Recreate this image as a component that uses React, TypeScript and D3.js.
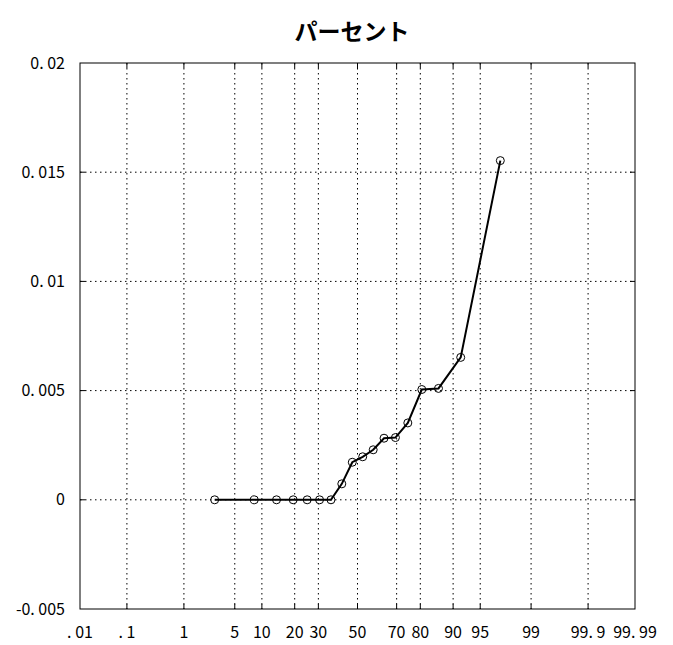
import React, { useEffect, useRef } from "react";
import * as d3 from "d3";

const percentTicks = [0.01, 0.1, 1, 5, 10, 20, 30, 50, 70, 80, 90, 95, 99, 99.9, 99.99];
const percentTickLabels = [". 01", ". 1", "1", "5", "10", "20", "30", "50", "70", "80", "90", "95", "99", "99. 9", "99. 99"];
const valueTicks = [-0.005, 0, 0.005, 0.01, 0.015, 0.02];
const valueTickLabels = ["-0. 005", "0", "0. 005", "0. 01", "0. 015", "0. 02"];

const pointPercents = [2.78, 8.33, 13.89, 19.44, 25.0, 30.56, 36.11, 41.67, 47.22, 52.78, 58.33, 63.89, 69.44, 75.0, 80.56, 86.11, 91.67, 97.22];
const pointValues = [0, 0, 0, 0, 0, 0, 0, 0.00073, 0.00172, 0.00197, 0.00229, 0.00282, 0.00285, 0.00352, 0.00505, 0.0051, 0.00652, 0.01553];

const title = "パーセント";

// inverse normal CDF (Acklam)
function probit(p: number): number {
  const a = [-3.969683028665376e1, 2.209460984245205e2, -2.759285104469687e2, 1.38357751867269e2, -3.066479806614716e1, 2.506628277459239];
  const b = [-5.447609879822406e1, 1.615858368580409e2, -1.556989798598866e2, 6.680131188771972e1, -1.328068155288572e1];
  const c = [-7.784894002430293e-3, -3.223964580411365e-1, -2.400758277161838, -2.549732539343734, 4.374664141464968, 2.938163982698783];
  const d = [7.784695709041462e-3, 3.224671290700398e-1, 2.445134137142996, 3.754408661907416];
  const pl = 0.02425;
  if (p < pl) {
    const q = Math.sqrt(-2 * Math.log(p));
    return (((((c[0] * q + c[1]) * q + c[2]) * q + c[3]) * q + c[4]) * q + c[5]) / ((((d[0] * q + d[1]) * q + d[2]) * q + d[3]) * q + 1);
  } else if (p <= 1 - pl) {
    const q = p - 0.5;
    const r = q * q;
    return ((((((a[0] * r + a[1]) * r + a[2]) * r + a[3]) * r + a[4]) * r + a[5]) * q) / (((((b[0] * r + b[1]) * r + b[2]) * r + b[3]) * r + b[4]) * r + 1);
  } else {
    const q = Math.sqrt(-2 * Math.log(1 - p));
    return -(((((c[0] * q + c[1]) * q + c[2]) * q + c[3]) * q + c[4]) * q + c[5]) / ((((d[0] * q + d[1]) * q + d[2]) * q + d[3]) * q + 1);
  }
}

const W = 673;
const H = 645;
const M = { left: 80, right: 635, top: 63, bottom: 609 };
const FONT = "'Noto Sans CJK JP', 'Noto Sans', sans-serif";

export default function App() {
  const ref = useRef<SVGSVGElement>(null);

  useEffect(() => {
    const svg = d3.select(ref.current);
    svg.selectAll("*").remove();

    const x = d3.scaleLinear().domain([probit(0.0001), probit(0.9999)]).range([M.left, M.right]);
    const px = (p: number) => x(probit(p / 100));
    const y = d3.scaleLinear().domain([-0.005, 0.02]).range([M.bottom, M.top]);

    const g = svg.append("g");

    // vertical grid
    percentTicks.forEach((t, i) => {
      const xx = px(t);
      if (i > 0 && i < percentTicks.length - 1) {
        g.append("line").attr("x1", xx).attr("x2", xx).attr("y1", M.top).attr("y2", M.bottom)
          .attr("stroke", "#000").attr("stroke-width", 1).attr("stroke-dasharray", "1.5,3.5");
        g.append("line").attr("x1", xx).attr("x2", xx).attr("y1", M.top).attr("y2", M.top + 5)
          .attr("stroke", "#000").attr("stroke-width", 1);
        g.append("line").attr("x1", xx).attr("x2", xx).attr("y1", M.bottom).attr("y2", M.bottom - 5)
          .attr("stroke", "#000").attr("stroke-width", 1);
      }
      g.append("text").attr("x", xx).attr("y", M.bottom + 29).attr("text-anchor", "middle")
        .attr("font-family", FONT).attr("font-size", 16).attr("fill", "#000").text(percentTickLabels[i]);
    });

    // horizontal grid
    valueTicks.forEach((t, i) => {
      const yy = y(t);
      if (i > 0 && i < valueTicks.length - 1) {
        g.append("line").attr("x1", M.left).attr("x2", M.right).attr("y1", yy).attr("y2", yy)
          .attr("stroke", "#000").attr("stroke-width", 1).attr("stroke-dasharray", "1.5,3.5");
        g.append("line").attr("x1", M.left).attr("x2", M.left + 5).attr("y1", yy).attr("y2", yy)
          .attr("stroke", "#000").attr("stroke-width", 1);
        g.append("line").attr("x1", M.right).attr("x2", M.right - 5).attr("y1", yy).attr("y2", yy)
          .attr("stroke", "#000").attr("stroke-width", 1);
      }
      g.append("text").attr("x", M.left - 15).attr("y", yy).attr("dy", "0.35em").attr("text-anchor", "end")
        .attr("font-family", FONT).attr("font-size", 16).attr("fill", "#000").text(valueTickLabels[i]);
    });

    // border
    g.append("rect").attr("x", M.left).attr("y", M.top).attr("width", M.right - M.left).attr("height", M.bottom - M.top)
      .attr("fill", "none").attr("stroke", "#000").attr("stroke-width", 1);

    // line
    const pts = pointPercents.map((p, i) => [px(p), y(pointValues[i])] as [number, number]);
    g.append("path").attr("d", d3.line()(pts)).attr("fill", "none").attr("stroke", "#000").attr("stroke-width", 2);

    g.selectAll("circle.pt").data(pts).enter().append("circle").attr("class", "pt")
      .attr("cx", (d) => d[0]).attr("cy", (d) => d[1]).attr("r", 4)
      .attr("fill", "none").attr("stroke", "#000").attr("stroke-width", 1);

    // title
    svg.append("text").attr("x", 352).attr("y", 40).attr("text-anchor", "middle")
      .attr("font-family", FONT).attr("font-weight", "bold").attr("font-size", 23).attr("fill", "#000").text(title);
  }, []);

  return (
    <svg ref={ref} width={W} height={H} style={{ position: "absolute", left: 0, top: 0, background: "#fff" }} />
  );
}
